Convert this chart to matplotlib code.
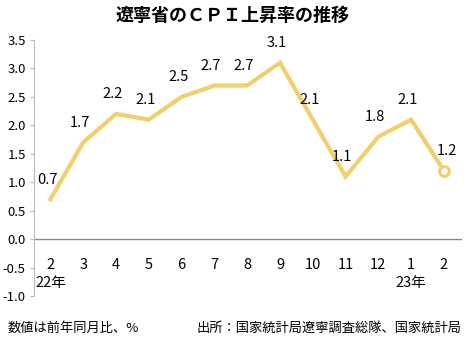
import matplotlib
matplotlib.use("Agg")
import matplotlib.pyplot as plt

plt.rcParams['font.family'] = ['Noto Sans CJK JP', 'DejaVu Sans']

# monthly CPI change, Feb 2022 - Feb 2023
months = ["2", "3", "4", "5", "6", "7", "8", "9", "10", "11", "12", "1", "2"]
cpi = [0.7, 1.7, 2.2, 2.1, 2.5, 2.7, 2.7, 3.1, 2.1, 1.1, 1.8, 2.1, 1.2]
year_marks = {0: "22年", 11: "23年"}

line_color = "#f2cf6b"

fig = plt.figure(figsize=(4.65, 3.4), dpi=100)
ax = fig.add_axes([34 / 465, 44 / 340, 428 / 465, 256 / 340])

x = list(range(len(cpi)))
ax.plot(x, cpi, color=line_color, lw=3, solid_joinstyle="miter", zorder=3)
ax.plot(x[-1], cpi[-1], "o", ms=7, mfc="white", mec=line_color, mew=2.2, zorder=4)

for i, v in enumerate(cpi):
    dx = 0.1 if i == len(cpi) - 1 else -0.1
    ax.text(i + dx, v + 0.22, f"{v:.1f}", ha="center", va="bottom", fontsize=10.5)

# month labels sit inside the plot area, years beneath
for i, m in enumerate(months):
    ax.text(i, -0.45, m, ha="center", va="center", fontsize=10.5)
    if i in year_marks:
        ax.text(i, -0.78, year_marks[i], ha="center", va="center", fontsize=10.5)

ax.axhline(0, color="#888888", lw=1, zorder=1)

ax.set_xlim(-0.5, 12.55)
ax.set_ylim(-1.0, 3.5)
ax.set_yticks([-1.0, -0.5, 0.0, 0.5, 1.0, 1.5, 2.0, 2.5, 3.0, 3.5])
ax.set_yticklabels([f"{t:.1f}" for t in ax.get_yticks()], fontsize=9.5)
ax.set_xticks([])
ax.tick_params(axis="y", length=3, color="#bbbbbb", pad=3)
for s in ["top", "right", "bottom"]:
    ax.spines[s].set_visible(False)
ax.spines["left"].set_color("#bbbbbb")

fig.text(0.5, 0.955, "遼寧省のＣＰＩ上昇率の推移", ha="center", va="center",
         fontsize=13, fontweight="bold")
fig.text(8 / 465, 0.035, "数値は前年同月比、%", ha="left", va="center", fontsize=9.5)
fig.text(461 / 465, 0.035, "出所：国家統計局遼寧調査総隊、国家統計局",
         ha="right", va="center", fontsize=9.5)

fig.savefig("out.png", dpi=100)
